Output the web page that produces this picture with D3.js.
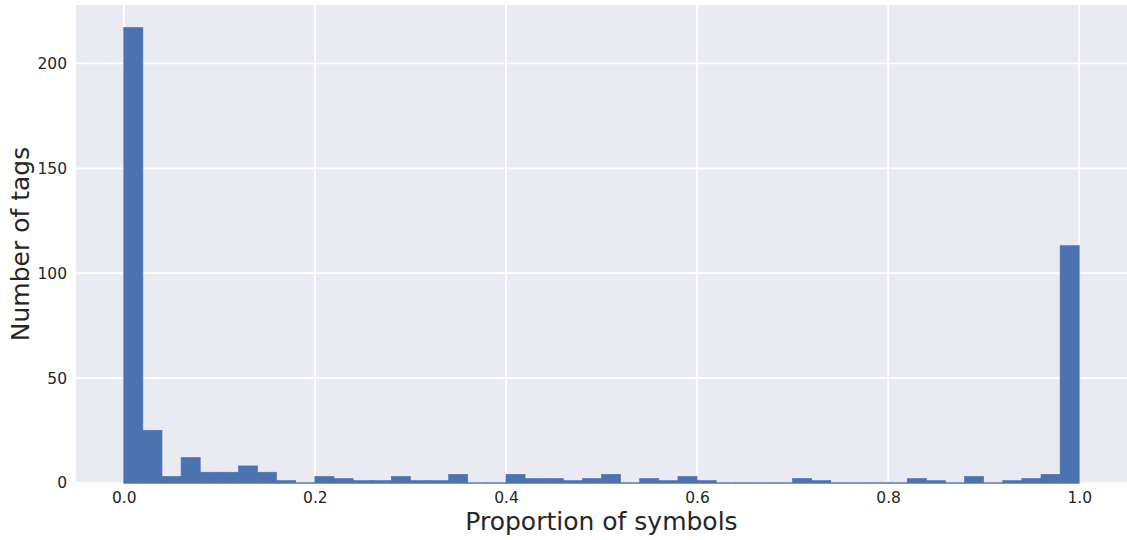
<!DOCTYPE html>
<html>
<head>
<meta charset="utf-8">
<script src="https://cdn.jsdelivr.net/npm/d3@7"></script>
<style>
  body { margin: 0; background: #fff; }
  svg { display: block; font-family: "DejaVu Sans", sans-serif; }
</style>
</head>
<body>
<div id="chart"></div>
<script>
// histogram counts, 50 bins of width 0.02 from 0 to 1
var counts = [217, 25, 3, 12, 5, 5, 8, 5, 1, 0,
              3, 2, 1, 1, 3, 1, 1, 4, 0, 0,
              4, 2, 2, 1, 2, 4, 0, 2, 1, 3,
              1, 0, 0, 0, 0, 2, 1, 0, 0, 0,
              0, 2, 1, 0, 3, 0, 1, 2, 4, 113];
var xTicks = [0, 0.2, 0.4, 0.6, 0.8, 1.0];
var yTicks = [0, 50, 100, 150, 200];

var width = 1127,
    height = 540;
var margin = {top: 5, right: 0, bottom: 57, left: 76};

var binWidth = 1 / counts.length;
var bins = counts.map(function(c, i) { return {x0: i * binWidth, x1: (i + 1) * binWidth, n: c}; });

var svg = d3.select("#chart").append("svg")
    .attr("width", width)
    .attr("height", height);

var x = d3.scaleLinear()
    .domain([-0.05, 1.05])
    .range([margin.left, width - margin.right]);

var y = d3.scaleLinear()
    .domain([0, d3.max(counts) * 1.05])
    .range([height - margin.bottom, margin.top]);

svg.append("rect")
    .attr("x", margin.left)
    .attr("y", margin.top)
    .attr("width", width - margin.left - margin.right)
    .attr("height", height - margin.top - margin.bottom)
    .attr("fill", "#EAEAF2");

// grid
svg.append("g").selectAll("line")
    .data(xTicks)
    .enter().append("line")
      .attr("x1", function(d) { return x(d); })
      .attr("x2", function(d) { return x(d); })
      .attr("y1", margin.top)
      .attr("y2", height - margin.bottom)
      .attr("stroke", "#fff")
      .attr("stroke-width", 1.8);

svg.append("g").selectAll("line")
    .data(yTicks)
    .enter().append("line")
      .attr("x1", margin.left)
      .attr("x2", width - margin.right)
      .attr("y1", function(d) { return y(d); })
      .attr("y2", function(d) { return y(d); })
      .attr("stroke", "#fff")
      .attr("stroke-width", 1.8);

// bars (zero bins still leave a thin edge line at the base)
svg.append("g").selectAll("rect")
    .data(bins)
    .enter().append("rect")
      .attr("x", function(d) { return x(d.x0); })
      .attr("y", function(d) { return y(d.n) - 0.3; })
      .attr("width", function(d) { return x(d.x1) - x(d.x0); })
      .attr("height", function(d) { return y(0) - y(d.n) + 0.6; })
      .attr("fill", "#4C72B0")
      .attr("stroke", "#4C72B0")
      .attr("stroke-width", 0.6);

// axes
var xAxis = svg.append("g")
    .attr("transform", "translate(0," + (height - margin.bottom) + ")")
    .call(d3.axisBottom(x).tickValues(xTicks).tickFormat(d3.format(".1f")).tickSize(0).tickPadding(9));

var yAxis = svg.append("g")
    .attr("transform", "translate(" + margin.left + ",0)")
    .call(d3.axisLeft(y).tickValues(yTicks).tickSize(0).tickPadding(9));

[xAxis, yAxis].forEach(function(a) {
  a.select(".domain").remove();
  a.selectAll("text")
      .attr("fill", "#262626")
      .attr("font-size", 15.5)
      .attr("font-family", "DejaVu Sans");
});

svg.append("text")
    .attr("x", x(0.5))
    .attr("y", 530)
    .attr("text-anchor", "middle")
    .attr("fill", "#262626")
    .attr("font-size", 25)
    .text("Proportion of symbols");

svg.append("text")
    .attr("transform", "translate(29," + (margin.top + (height - margin.bottom - margin.top) / 2) + ") rotate(-90)")
    .attr("text-anchor", "middle")
    .attr("fill", "#262626")
    .attr("font-size", 25)
    .text("Number of tags");
</script>
</body>
</html>
